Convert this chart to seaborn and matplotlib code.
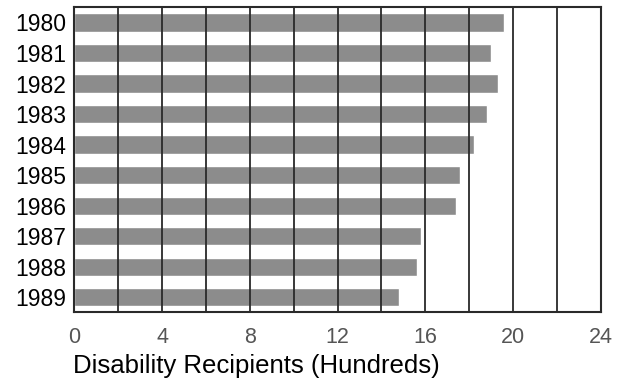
import pandas as pd
import matplotlib.pyplot as plt
import seaborn as sns
from matplotlib.ticker import MultipleLocator

years = ['1980', '1981', '1982', '1983', '1984', '1985', '1986', '1987', '1988', '1989']
recipients = [19.6, 19.0, 19.3, 18.8, 18.2, 17.6, 17.4, 15.8, 15.6, 14.8]
x_ticks = [0, 4, 8, 12, 16, 20, 24]

sns.set_style('white')
plt.rcParams['font.family'] = ['Liberation Sans', 'DejaVu Sans']

df = pd.DataFrame({'year': years, 'recipients': recipients})

fig, ax = plt.subplots(figsize=(6.24, 3.79), dpi=100)
fig.subplots_adjust(left=0.119, right=0.963, bottom=0.177, top=0.981)

sns.barplot(data=df, x='recipients', y='year', order=years, orient='h',
            color='#8c8c8c', saturation=1, width=0.6, ax=ax)

ax.set_xlim(0, 24)
ax.set_ylim(9.48, -0.5)
ax.set_xticks(x_ticks)
ax.xaxis.set_minor_locator(MultipleLocator(2))
ax.set_axisbelow(False)
ax.grid(True, axis='x', which='both', color='#2a2a2a', linewidth=1.3)

for s in ax.spines.values():
    s.set_color('#2a2a2a')
    s.set_linewidth(1.5)

ax.tick_params(axis='y', length=0, labelsize=16.5, labelcolor='black', pad=6)
ax.tick_params(axis='x', which='major', length=3, width=1.2, color='#2a2a2a',
               labelsize=15.5, labelcolor='#555555', pad=8)
ax.tick_params(axis='x', which='minor', length=0)

ax.set_ylabel('')
ax.set_xlabel('Disability Recipients (Hundreds)', fontsize=18.5, color='black',
              loc='left', labelpad=4)
ax.xaxis.label.set_x(-0.002)

fig.savefig('out.png', dpi=100)
